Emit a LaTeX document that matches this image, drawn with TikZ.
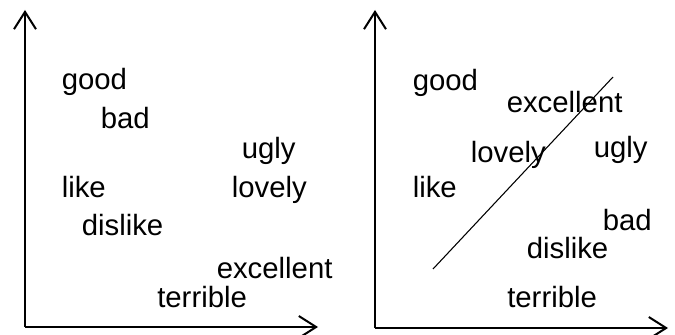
\documentclass[tikz,border=0pt]{standalone}
\usepackage{fontspec}
\setmainfont{Liberation Sans}
\usetikzlibrary{arrows.meta}
\begin{document}
\begin{tikzpicture}[x=0.75pt,y=-0.75pt,
  word/.style={anchor=base west,inner sep=0pt,font=\fontsize{22}{26}\selectfont},
  axis/.style={line width=1.5pt,-{Straight Barb[length=13pt,width=16.5pt,line width=1.5pt]}},
  split/.style={line width=0.8pt}]
\useasboundingbox (0,0) rectangle (675,335);
% left panel axes
\coordinate (lo) at (25,327);
\coordinate (ly) at (25,10);
\coordinate (lx) at (318,327);
\draw[axis] (lo) -- (ly);
\draw[axis] (lo) -- (lx);
% left words
\node[word] (lgood) at (61.5,90) {good};
\node[word] (lbad) at (100.5,128) {bad};
\node[word] (lugly) at (241.5,158) {ugly};
\node[word] (llike) at (61.5,197) {like};
\node[word] (llovely) at (231.5,197) {lovely};
\node[word] (ldislike) at (81.5,235) {dislike};
\node[word] (lexcellent) at (216.5,278) {excellent};
\node[word] (lterrible) at (157,307) {terrible};
% right panel axes
\coordinate (ro) at (375,328);
\coordinate (ry) at (375,10);
\coordinate (rx) at (668,328);
\draw[axis] (ro) -- (ry);
\draw[axis] (ro) -- (rx);
% right words
\node[word] (rgood) at (412.5,91) {good};
\node[word] (rexcellent) at (506.5,113) {excellent};
\node[word] (rlovely) at (470.5,162) {lovely};
\node[word] (rugly) at (593.5,157) {ugly};
\node[word] (rlike) at (412.5,197) {like};
\node[word] (rbad) at (602.5,230) {bad};
\node[word] (rdislike) at (526.5,258) {dislike};
\node[word] (rterrible) at (507,307) {terrible};
% separating line
\coordinate (s1) at (433,269);
\coordinate (s2) at (613,77);
\draw[split] (s1) -- (s2);
\end{tikzpicture}
\end{document}
